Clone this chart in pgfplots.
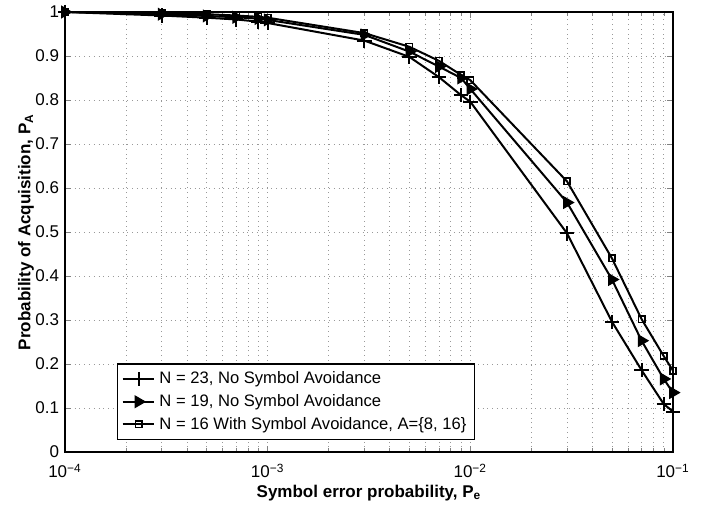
\documentclass[border=0pt]{standalone}
\usepackage{fontspec}
\setmainfont{Liberation Sans}
\usepackage{pgfplots}
\pgfplotsset{compat=1.18}
\begin{document}
\fontsize{8.3}{10}\selectfont
\begin{tikzpicture}
\begin{axis}[
  scale only axis, width=304pt, height=220pt,
  xmode=log, xmin=1e-4, xmax=1e-1, ymin=0, ymax=1,
  xtick={1e-4,1e-3,1e-2,1e-1},
  xticklabels={10\textsuperscript{−4},10\textsuperscript{−3},10\textsuperscript{−2},10\textsuperscript{−1}},
  ytick={0,0.1,0.2,0.3,0.4,0.5,0.6,0.7,0.8,0.9,1},
  yticklabels={0,0.1,0.2,0.3,0.4,0.5,0.6,0.7,0.8,0.9,1},
  /pgf/number format/assume math mode=true,
  tick label style={font=\fontsize{8.5}{10}\selectfont},
  xticklabel style={yshift=-3pt},
  tick align=inside, major tick length=3pt, minor tick length=1.8pt,
  xtick pos=both, ytick pos=both,
  grid=both, major grid style={dotted, gray!80, line width=0.4pt},
  minor grid style={dotted, gray!80, line width=0.4pt},
  minor y tick num=0,
  axis line style={line width=0.6pt},
  xlabel={\bfseries Symbol error probability, P\textsubscript{e}},
  ylabel={\bfseries Probability of Acquisition, P\textsubscript{A}},
  label style={font=\fontsize{8.5}{10}\selectfont},
  xlabel style={yshift=2pt},
  ylabel style={yshift=-5pt},
  legend style={at={(0.0855,0.027)}, anchor=south west, draw=black, line width=0.6pt,
     font=\fontsize{8.3}{10}\selectfont, row sep=0pt, inner sep=2pt, cells={anchor=west}},
  legend image code/.code={\draw[mark repeat=2,mark phase=2,#1] plot coordinates {(0cm,0cm) (0.28cm,0cm) (0.56cm,0cm)};},
]
\addplot[black, line width=1pt, mark=+, mark size=3.6pt, mark options={line width=1pt}] coordinates {
(1e-4,1.0) (3e-4,0.992) (5e-4,0.987) (7e-4,0.983) (9e-4,0.978) (1e-3,0.975)
(3e-3,0.935) (5e-3,0.898) (7e-3,0.852) (9e-3,0.811) (1e-2,0.796)
(3e-2,0.497) (5e-2,0.296) (7e-2,0.186) (9e-2,0.109) (1e-1,0.092)};
\addlegendentry{N = 23, No Symbol Avoidance}
\addplot[black, line width=1pt, mark=triangle*, mark size=3.2pt, mark options={rotate=-90, line width=0.6pt}] coordinates {
(1e-4,1.0) (3e-4,0.995) (5e-4,0.991) (7e-4,0.988) (9e-4,0.985) (1e-3,0.982)
(3e-3,0.948) (5e-3,0.91) (7e-3,0.876) (9e-3,0.85) (1e-2,0.825)
(3e-2,0.567) (5e-2,0.392) (7e-2,0.253) (9e-2,0.166) (1e-1,0.135)};
\addlegendentry{N = 19, No Symbol Avoidance}
\addplot[black, line width=1pt, mark=square, mark size=1.6pt, mark options={line width=0.8pt}] coordinates {
(1e-4,1.0) (3e-4,0.997) (5e-4,0.995) (7e-4,0.992) (9e-4,0.989) (1e-3,0.987)
(3e-3,0.952) (5e-3,0.921) (7e-3,0.889) (9e-3,0.857) (1e-2,0.845)
(3e-2,0.615) (5e-2,0.44) (7e-2,0.302) (9e-2,0.218) (1e-1,0.185)};
\addlegendentry{N = 16 With Symbol Avoidance, A=\{8, 16\}}
\end{axis}
\path ([xshift=-32.5pt,yshift=-27pt]current axis.south west) rectangle ([xshift=16pt,yshift=6pt]current axis.north east);
\end{tikzpicture}
\end{document}
